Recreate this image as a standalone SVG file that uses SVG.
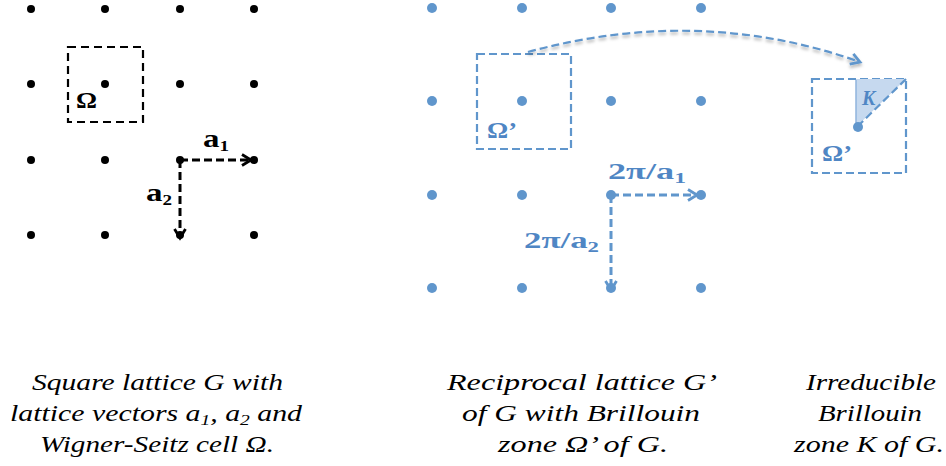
<svg xmlns="http://www.w3.org/2000/svg" width="946" height="466" viewBox="0 0 946 466">
<style>
.bd{fill:#000}
.ud{fill:#6096cc}
.bbox{fill:none;stroke:#000;stroke-width:2.2;stroke-dasharray:8 5}
.bdash{fill:none;stroke:#000;stroke-width:3;stroke-dasharray:8 4}
.ubox{fill:none;stroke:#6096cc;stroke-width:2.2;stroke-dasharray:8 4}
.udash{fill:none;stroke:#6096cc;stroke-width:3;stroke-dasharray:8 4}
.lbl{font-family:'Liberation Serif','DejaVu Serif',serif;font-weight:bold;font-size:23px;fill:#000}
.big{font-size:26px}
.ulbl{font-family:'Liberation Serif','DejaVu Serif',serif;font-weight:bold;font-size:23px;fill:#4f86c4}
.cap{font-family:'Liberation Serif','DejaVu Serif',serif;font-style:italic;font-size:23px;fill:#000}
.sub{font-size:15px}
</style>
<defs>
<marker id="ab" viewBox="0 0 14 14" refX="11" refY="7" markerWidth="14" markerHeight="14" markerUnits="userSpaceOnUse" orient="auto">
<polyline points="2,1.5 11,7 2,12.5" fill="none" stroke="#000" stroke-width="2.8"/>
</marker>
<marker id="au" viewBox="0 0 14 14" refX="11" refY="7" markerWidth="14" markerHeight="14" markerUnits="userSpaceOnUse" orient="auto">
<polyline points="2,1.5 11,7 2,12.5" fill="none" stroke="#6096cc" stroke-width="2.8"/>
</marker>
<filter id="sh" x="-10%" y="-50%" width="120%" height="200%">
<feDropShadow dx="0" dy="2.5" stdDeviation="1.5" flood-color="#000" flood-opacity="0.3"/>
</filter>
</defs>

<g id="lattice-G">
<circle class="bd" cx="31" cy="9" r="4"/><circle class="bd" cx="105" cy="9" r="4"/><circle class="bd" cx="180" cy="9" r="4"/><circle class="bd" cx="254" cy="9" r="4"/>
<circle class="bd" cx="31" cy="84" r="4"/><circle class="bd" cx="105" cy="84" r="4"/><circle class="bd" cx="180" cy="84" r="4"/><circle class="bd" cx="254" cy="84" r="4"/>
<circle class="bd" cx="31" cy="160" r="4"/><circle class="bd" cx="105" cy="160" r="4"/><circle class="bd" cx="180" cy="160" r="4"/><circle class="bd" cx="254" cy="160" r="4"/>
<circle class="bd" cx="31" cy="235" r="4"/><circle class="bd" cx="105" cy="235" r="4"/><circle class="bd" cx="180" cy="235" r="4"/><circle class="bd" cx="254" cy="235" r="4"/>
</g>
<g id="cell-omega">
<rect class="bbox" x="68" y="47" width="75" height="75"/>
<text class="lbl" x="76" y="108" textLength="21" lengthAdjust="spacingAndGlyphs">Ω</text>
</g>

<g id="lattice-G-prime">
<circle class="ud" cx="432" cy="8" r="5"/><circle class="ud" cx="522" cy="8" r="5"/><circle class="ud" cx="611" cy="8" r="5"/><circle class="ud" cx="701" cy="8" r="5"/>
<circle class="ud" cx="432" cy="101" r="5"/><circle class="ud" cx="522" cy="101" r="5"/><circle class="ud" cx="611" cy="101" r="5"/><circle class="ud" cx="701" cy="101" r="5"/>
<circle class="ud" cx="432" cy="195" r="5"/><circle class="ud" cx="522" cy="195" r="5"/><circle class="ud" cx="611" cy="195" r="5"/><circle class="ud" cx="701" cy="195" r="5"/>
<circle class="ud" cx="432" cy="288" r="5"/><circle class="ud" cx="522" cy="288" r="5"/><circle class="ud" cx="611" cy="288" r="5"/><circle class="ud" cx="701" cy="288" r="5"/>
</g>
<g id="zone-omega-prime">
<rect class="ubox" x="477" y="54" width="94" height="95"/>
<text class="ulbl" x="487" y="138" textLength="30" lengthAdjust="spacingAndGlyphs">Ω’</text>
</g>

<g id="irreducible-zone">
<rect class="ubox" x="812" y="79" width="94" height="94"/>
<polygon points="856,79 906,79 856,127" fill="#c6d9ef" stroke="none"/>
<line x1="856" y1="80" x2="856" y2="127" stroke="#8fb3dc" stroke-width="1.5"/>
<line class="ubox" x1="906" y1="79" x2="858" y2="126"/>
<circle class="ud" cx="858" cy="127" r="5"/>
<text x="862" y="105" font-family="'Liberation Serif','DejaVu Serif',serif" font-style="italic" font-weight="bold" font-size="20" fill="#4f86c4">K</text>
<text class="ulbl" x="822" y="161" textLength="30" lengthAdjust="spacingAndGlyphs">Ω’</text>
</g>

<g id="connectors">
<line class="bdash" x1="180" y1="160" x2="251" y2="160" marker-end="url(#ab)"/>
<line class="bdash" x1="180" y1="160" x2="180" y2="238" marker-end="url(#ab)"/>
<line class="udash" x1="611" y1="195" x2="697" y2="195" marker-end="url(#au)"/>
<line class="udash" x1="611" y1="195" x2="611" y2="290" marker-end="url(#au)"/>
<path class="ubox" d="M528,52 Q700,5 860,62" marker-end="url(#au)" filter="url(#sh)"/>
</g>

<g id="vector-labels">
<text class="lbl big" x="203" y="147" textLength="26" lengthAdjust="spacingAndGlyphs">a<tspan class="sub" dy="4">1</tspan></text>
<text class="lbl big" x="146" y="201" textLength="26" lengthAdjust="spacingAndGlyphs">a<tspan class="sub" dy="4">2</tspan></text>
<text class="ulbl" x="608" y="179" textLength="78" lengthAdjust="spacingAndGlyphs">2π/a<tspan class="sub" dy="4">1</tspan></text>
<text class="ulbl" x="524" y="248" textLength="75" lengthAdjust="spacingAndGlyphs">2π/a<tspan class="sub" dy="4">2</tspan></text>
</g>

<g id="captions">
<text class="cap" x="32" y="390" textLength="251" lengthAdjust="spacingAndGlyphs">Square lattice G with</text>
<text class="cap" x="10" y="421" textLength="292" lengthAdjust="spacingAndGlyphs">lattice vectors a<tspan class="sub" dy="4">1</tspan><tspan dy="-4">, a</tspan><tspan class="sub" dy="4">2</tspan><tspan dy="-4">  and</tspan></text>
<text class="cap" x="40" y="452" textLength="234" lengthAdjust="spacingAndGlyphs">Wigner-Seitz cell Ω.</text>
<text class="cap" x="447" y="390" textLength="270" lengthAdjust="spacingAndGlyphs">Reciprocal lattice G’</text>
<text class="cap" x="462" y="421" textLength="238" lengthAdjust="spacingAndGlyphs">of G with Brillouin</text>
<text class="cap" x="498" y="452" textLength="170" lengthAdjust="spacingAndGlyphs">zone Ω’ of G.</text>
<text class="cap" x="806" y="390" textLength="130" lengthAdjust="spacingAndGlyphs">Irreducible</text>
<text class="cap" x="818" y="421" textLength="104" lengthAdjust="spacingAndGlyphs">Brillouin</text>
<text class="cap" x="794" y="452" textLength="150" lengthAdjust="spacingAndGlyphs">zone K of G.</text>
</g>
</svg>
